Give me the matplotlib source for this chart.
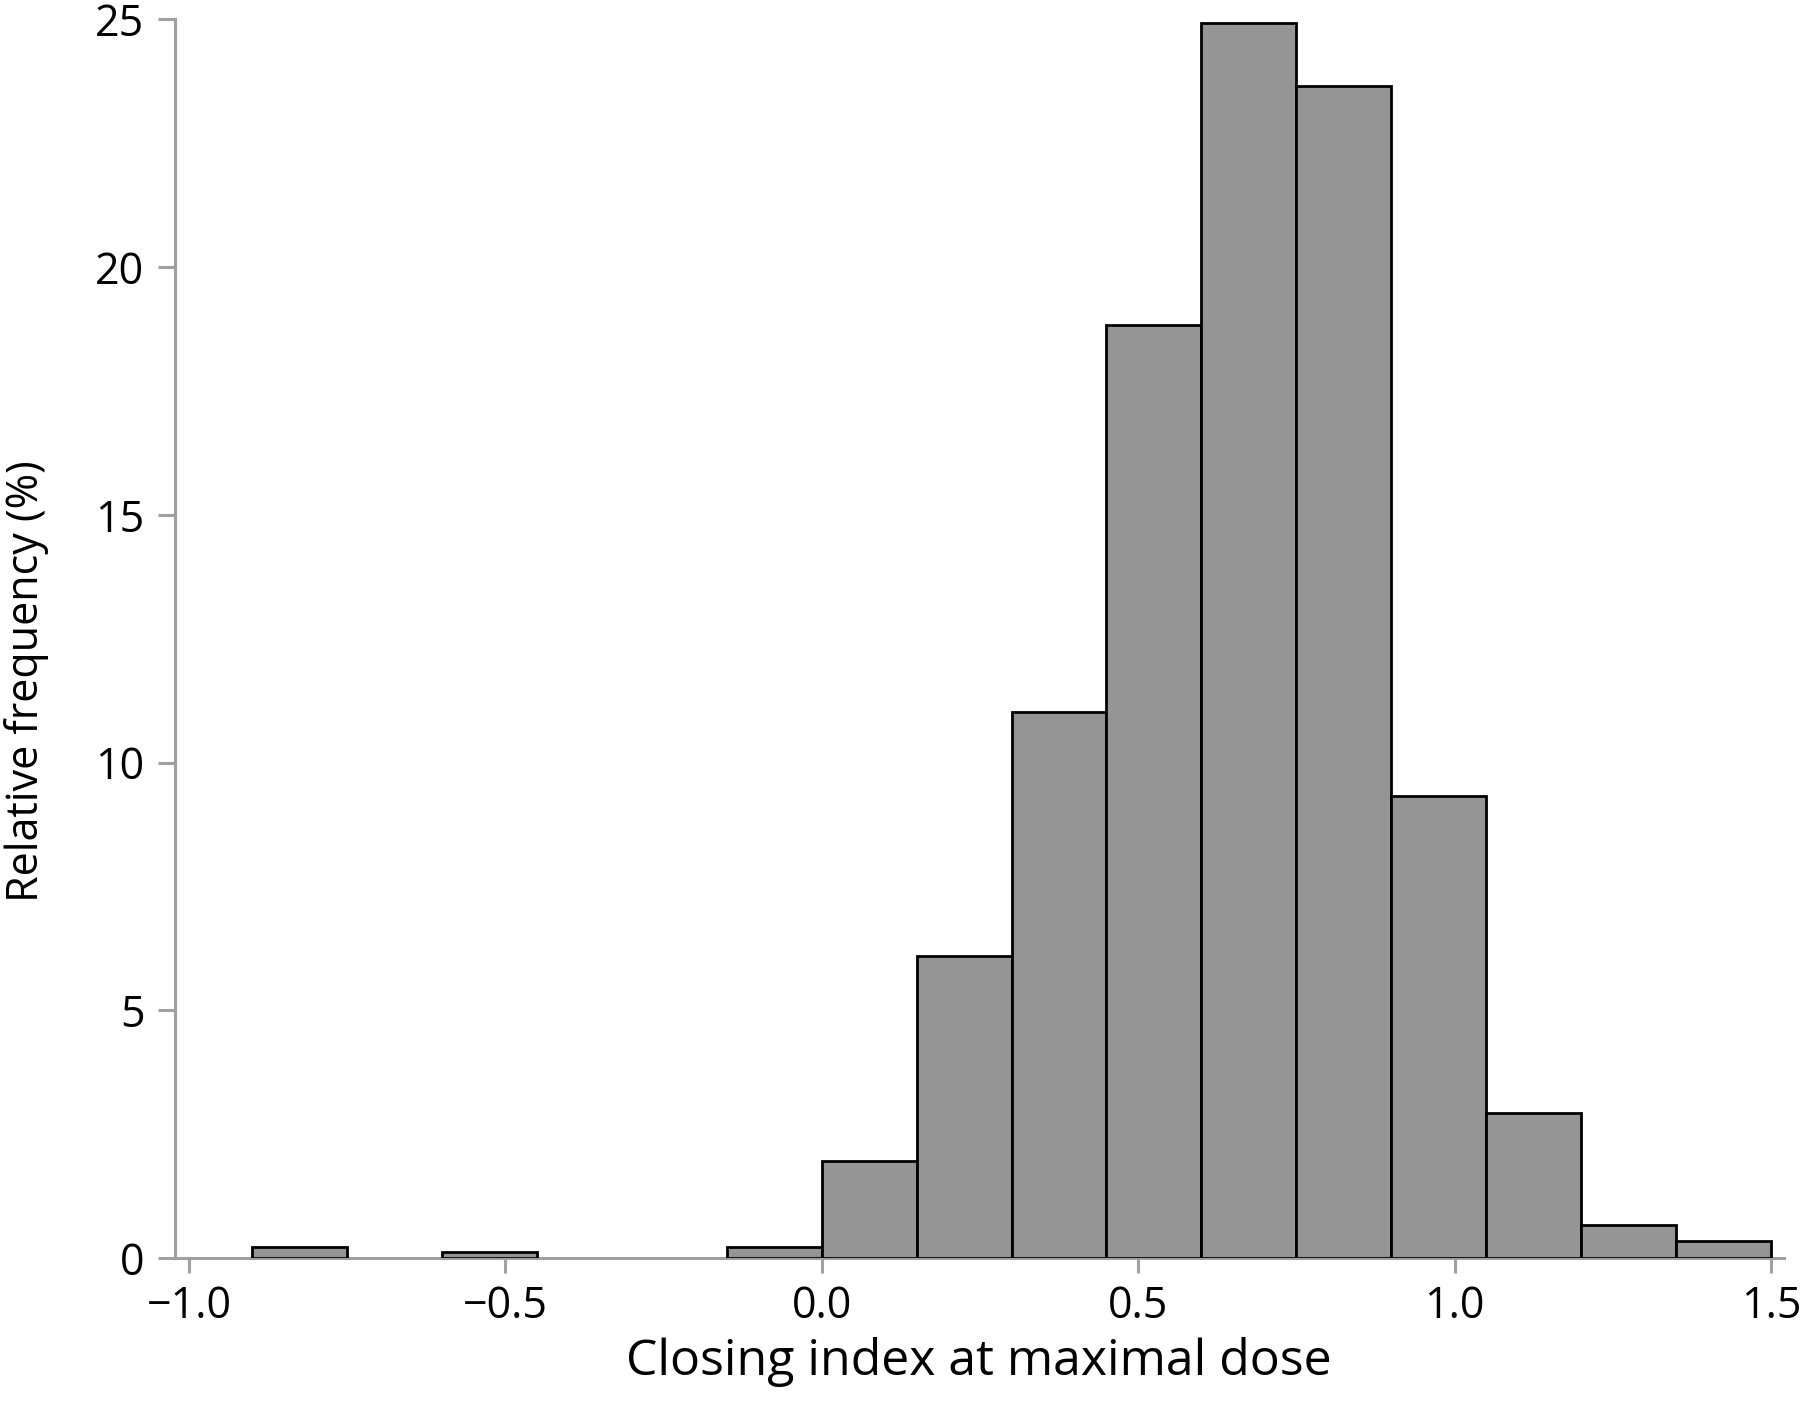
import matplotlib
matplotlib.use("Agg")
from matplotlib import pyplot as plt

# Data
bin_left = [-0.9, -0.75, -0.6, -0.45, -0.3, -0.15, 0.0, 0.15, 0.3, 0.45,
            0.6, 0.75, 0.9, 1.05, 1.2, 1.35]
freq = [0.22, 0.0, 0.12, 0.0, 0.0, 0.22, 1.95, 6.1, 11.02, 18.83,
        24.92, 23.65, 9.32, 2.92, 0.66, 0.35]
bin_width = 0.15
x_ticks = [-1.0, -0.5, 0.0, 0.5, 1.0, 1.5]
y_ticks = [0, 5, 10, 15, 20, 25]

plt.rcParams['font.family'] = ['Open Sans', 'DejaVu Sans']

fig = plt.figure(figsize=(18, 14.15), dpi=100)
ax = fig.add_axes([0.0972, 0.111, 0.8937, 0.8823])

# Plotting (skip empty bins so no black line sits on the baseline)
xs = [b for b, f in zip(bin_left, freq) if f > 0]
hs = [f for f in freq if f > 0]
ax.bar(xs, hs, width=bin_width, align='edge', color='#959595',
       edgecolor='black', linewidth=2.0, zorder=3)

ax.set_xlim(-1.022, 1.52)
ax.set_ylim(0, 25.2)

spine_col = '#a0a0a0'
for s in ['top', 'right']:
    ax.spines[s].set_visible(False)
ax.spines['left'].set_bounds(0, 25)
for s in ['left', 'bottom']:
    ax.spines[s].set_color(spine_col)
    ax.spines[s].set_linewidth(2.2)

ax.set_xticks(x_ticks)
ax.set_xticklabels(['\u22121.0', '\u22120.5', '0.0', '0.5', '1.0', '1.5'])
ax.set_yticks(y_ticks)
ax.tick_params(axis='x', length=11, width=2.2, color=spine_col, labelsize=31, pad=8)
ax.tick_params(axis='y', length=12, width=2.2, color=spine_col, labelsize=31, pad=10)

# labels
ax.set_xlabel('Closing index at maximal dose', fontsize=36, labelpad=6)
ax.set_ylabel('Relative frequency (%)', fontsize=31)
ax.yaxis.set_label_coords(-0.078, 0.462)

fig.savefig('out.png', dpi=100)
